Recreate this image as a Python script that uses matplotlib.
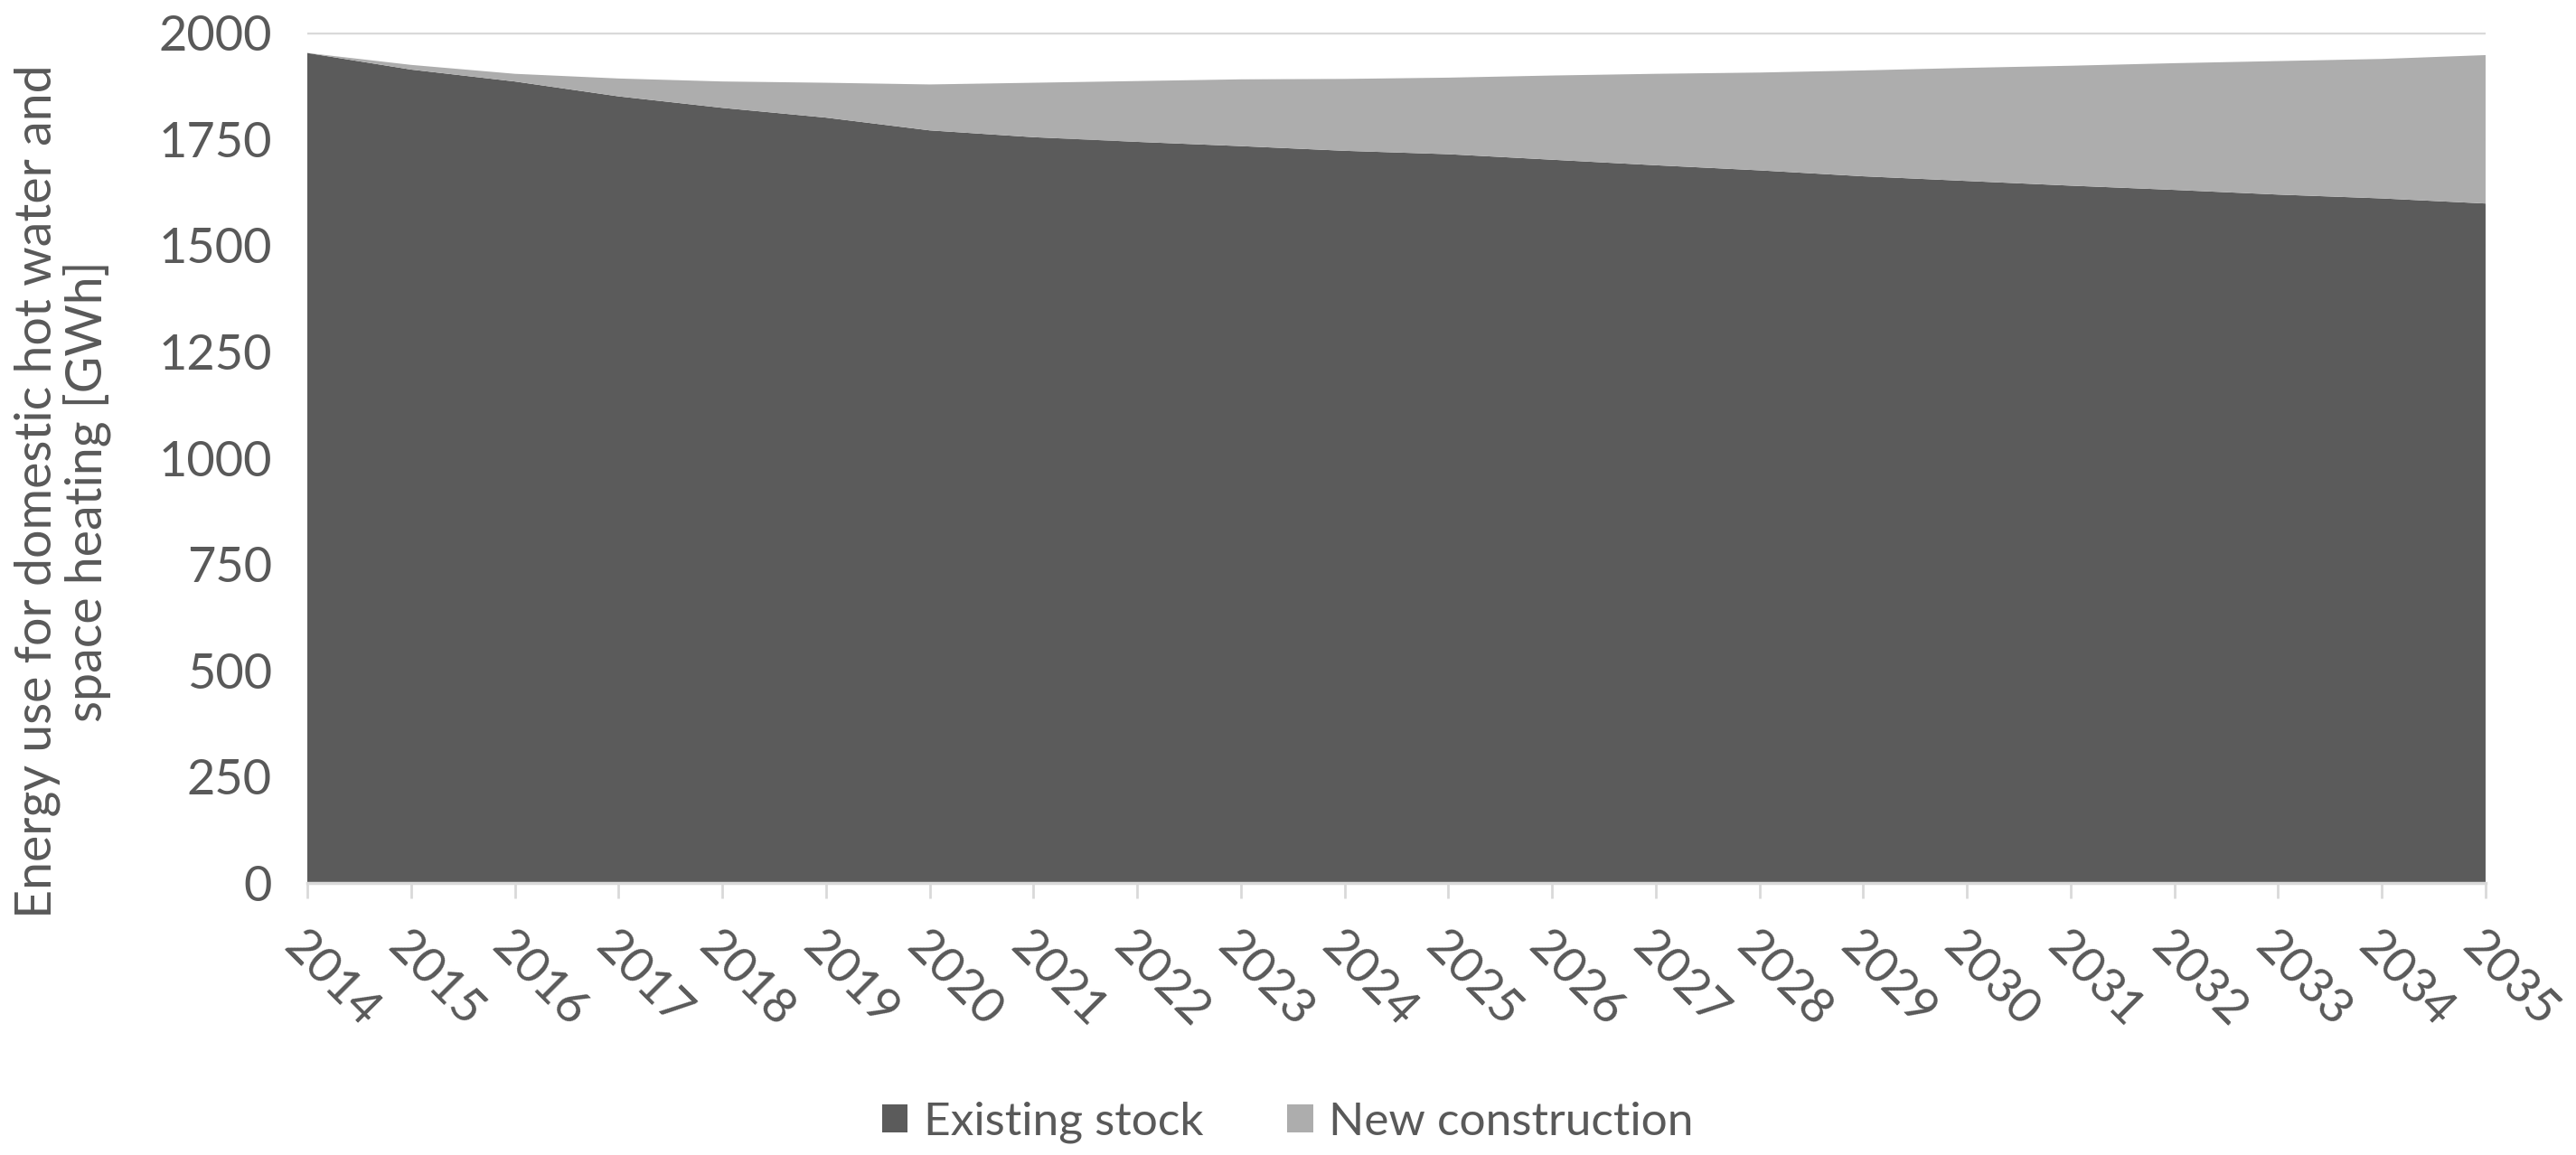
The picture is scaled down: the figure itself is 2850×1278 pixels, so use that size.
import matplotlib
matplotlib.use("Agg")
import matplotlib.pyplot as plt

# data (GWh)
years = list(range(2014, 2036))
existing_stock = [1952, 1913, 1885, 1850, 1823, 1800, 1770, 1754, 1743, 1733,
                  1722, 1714, 1701, 1688, 1676, 1662, 1651, 1640, 1630, 1619,
                  1610, 1598]
new_construction = [0, 11, 18, 42, 62, 82, 108, 128, 143, 157,
                    169, 180, 198, 215, 230, 249, 266, 282, 298, 314,
                    328, 349]
yticks = [0, 250, 500, 750, 1000, 1250, 1500, 1750, 2000]

plt.rcParams['font.family'] = ['Lato', 'DejaVu Sans']
txt = '#595959'
fs = 39

fig = plt.figure(figsize=(28.5, 12.78), dpi=100)
ax = fig.add_axes([0.1193, 0.2355, 0.8456, 0.7363])

ax.stackplot(years, existing_stock, new_construction,
             colors=['#5b5b5b', '#adadad'],
             labels=['Existing stock', 'New construction'], linewidth=0)

ax.set_xlim(years[0], years[-1])
ax.set_ylim(0, 2000)
ax.set_yticks(yticks)
ax.set_xticks(years)
ax.set_xticklabels([str(y) for y in years], rotation=-45, ha='left', va='top',
                   rotation_mode='anchor')

ax.yaxis.grid(True, color='#d9d9d9', linewidth=2.5)
ax.set_axisbelow(True)
for s in ['top', 'right', 'left']:
    ax.spines[s].set_visible(False)
ax.spines['bottom'].set_color('#d9d9d9')
ax.spines['bottom'].set_linewidth(2.5)

ax.tick_params(axis='y', length=0, pad=28, labelsize=fs, labelcolor=txt)
ax.tick_params(axis='x', length=12, width=2, color='#d9d9d9', pad=20,
               labelsize=fs, labelcolor=txt)
for lab in ax.get_xticklabels():
    lab.set_x(-0.15)

ax.set_ylabel('Energy use for domestic hot water and\nspace heating [GWh]',
              fontsize=40, color=txt, labelpad=38, y=0.46, linespacing=1.05)

fig.legend(loc='center', bbox_to_anchor=(0.5, 0.028), ncol=2, frameon=False,
           fontsize=37, labelcolor=txt, handlelength=0.55, handleheight=0.55,
           columnspacing=1.8, handletextpad=0.35)

fig.savefig('out.png', dpi=100)
